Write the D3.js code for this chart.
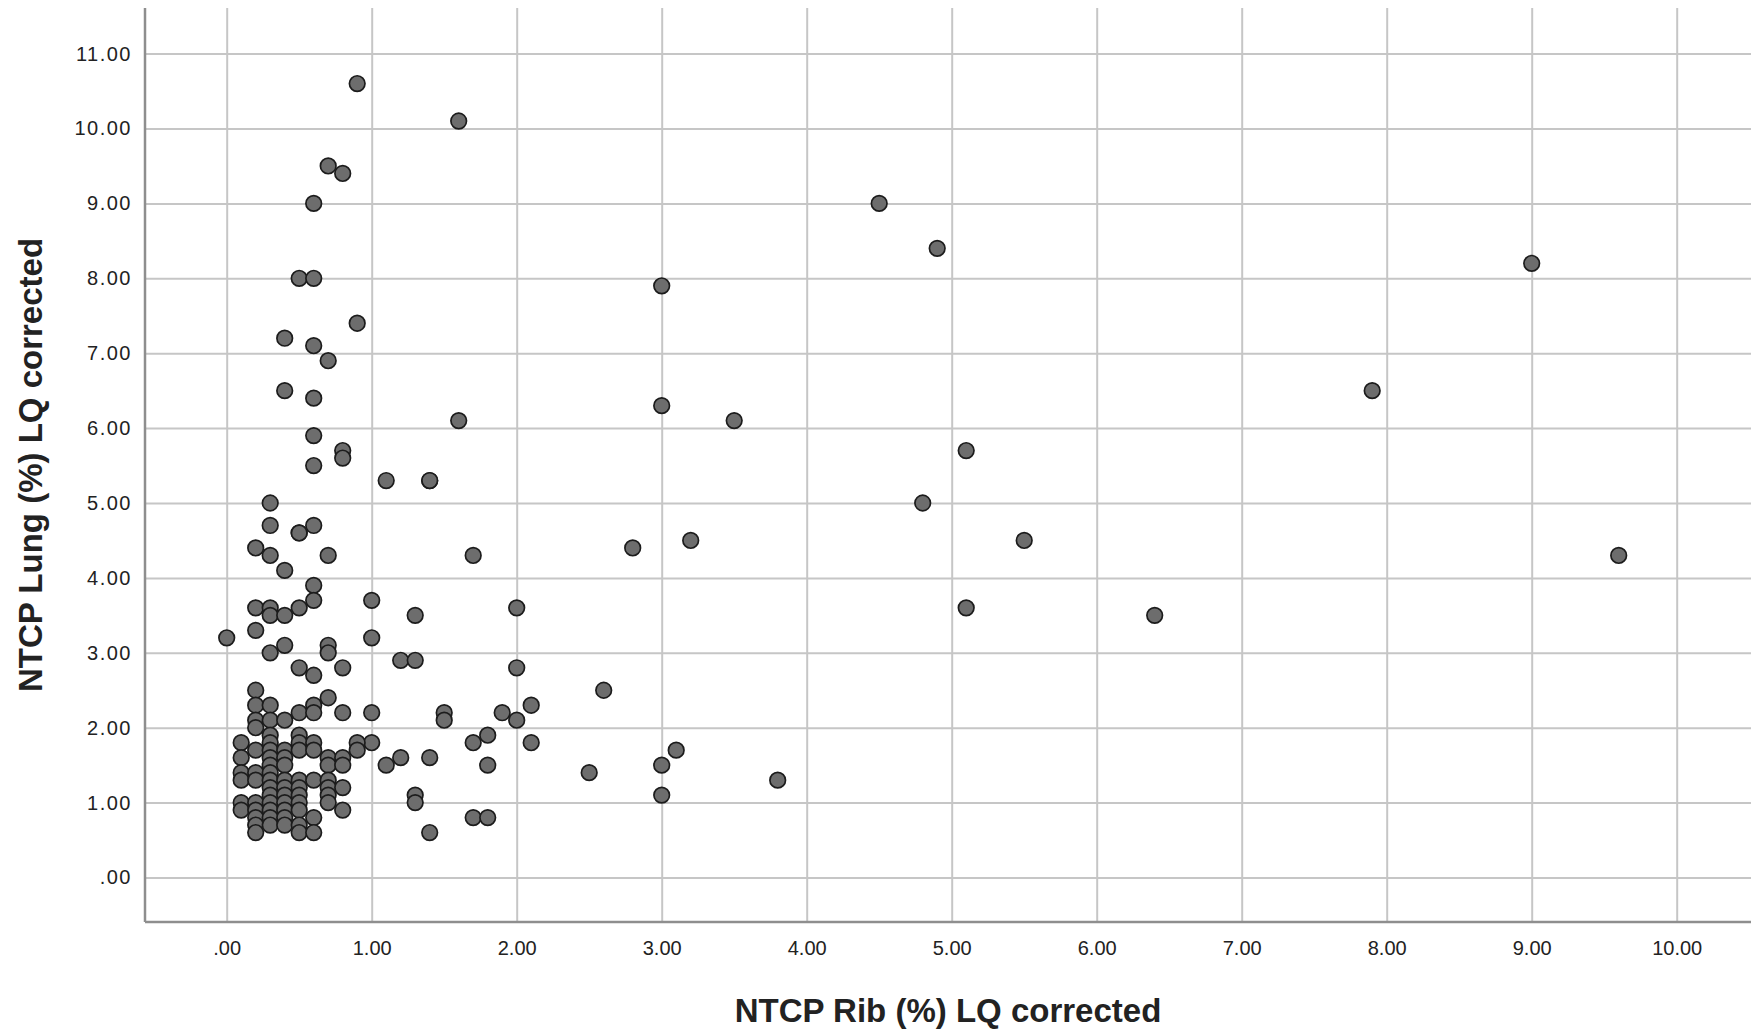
<!DOCTYPE html>
<html>
<head>
<meta charset="utf-8">
<script src="https://cdn.jsdelivr.net/npm/d3@7"></script>
<style>
	body { margin: 0; background: #fff; }
	svg { display: block; }
	text { font-family: "Liberation Sans", Arial, sans-serif; fill: #222; }
</style>
</head>
<body>
<svg id="chart" width="1751" height="1032"></svg>
<script>
// NTCP Rib (%) LQ corrected  (x) vs  NTCP Lung (%) LQ corrected  (y)
var ribValues = [
	0.9, 1.6, 0.7, 0.8, 0.6, 4.5, 4.9, 9.0, 0.5, 0.6, 3.0, 0.9, 0.4, 0.6, 0.7, 0.4, 7.9, 0.6, 3.0, 1.6,
	3.5, 0.6, 0.8, 5.1, 0.8, 0.6, 1.1, 1.4, 1.4, 0.3, 4.8, 0.3, 0.6, 0.5, 0.5, 3.2, 5.5, 0.2, 2.8, 0.3,
	0.7, 1.7, 9.6, 0.4, 0.6, 0.6, 1.0, 0.2, 0.3, 0.5, 2.0, 5.1, 0.3, 0.4, 1.3, 6.4, 0.2, 0.0, 1.0, 0.4,
	0.7, 0.3, 0.7, 1.2, 1.3, 0.5, 0.8, 2.0, 0.6, 2.6, 0.2, 0.7,
	2.1, 1.0, 1.5, 1.9, 0.8, 1.5, 2.0, 2.1, 1.0, 1.7, 1.8, 1.8, 1.4, 1.2, 1.1, 0.9, 0.9, 1.3, 1.3, 1.4,
	1.7, 1.8, 3.1, 3.0, 2.5, 3.8, 3.0,
	0.1, 0.1, 0.1, 0.1, 0.1, 0.1,
	0.2, 0.2, 0.2, 0.2, 0.2, 0.2, 0.2, 0.2, 0.2, 0.2, 0.2,
	0.3, 0.3, 0.3, 0.3, 0.3, 0.3, 0.3, 0.3, 0.3, 0.3, 0.3, 0.3, 0.3, 0.3, 0.3,
	0.4, 0.4, 0.4, 0.4, 0.4, 0.4, 0.4, 0.4, 0.4, 0.4, 0.4,
	0.5, 0.5, 0.5, 0.5, 0.5, 0.5, 0.5, 0.5, 0.5, 0.5, 0.5,
	0.6, 0.6, 0.6, 0.6, 0.6, 0.6, 0.6,
	0.7, 0.7, 0.7, 0.7, 0.7, 0.7,
	0.8, 0.8, 0.8, 0.8
]
var lungValues = [
	10.6, 10.1, 9.5, 9.4, 9.0, 9.0, 8.4, 8.2, 8.0, 8.0, 7.9, 7.4, 7.2, 7.1, 6.9, 6.5, 6.5, 6.4, 6.3, 6.1,
	6.1, 5.9, 5.7, 5.7, 5.6, 5.5, 5.3, 5.3, 5.3, 5.0, 5.0, 4.7, 4.7, 4.6, 4.6, 4.5, 4.5, 4.4, 4.4, 4.3,
	4.3, 4.3, 4.3, 4.1, 3.9, 3.7, 3.7, 3.6, 3.6, 3.6, 3.6, 3.6, 3.5, 3.5, 3.5, 3.5, 3.3, 3.2, 3.2, 3.1,
	3.1, 3.0, 3.0, 2.9, 2.9, 2.8, 2.8, 2.8, 2.7, 2.5, 2.5, 2.4,
	2.3, 2.2, 2.2, 2.2, 2.2, 2.1, 2.1, 1.8, 1.8, 1.8, 1.9, 1.5, 1.6, 1.6, 1.5, 1.8, 1.7, 1.1, 1.0, 0.6,
	0.8, 0.8, 1.7, 1.5, 1.4, 1.3, 1.1,
	1.8, 1.6, 1.4, 1.3, 1.0, 0.9,
	2.3, 2.1, 2.0, 1.7, 1.4, 1.3, 1.0, 0.9, 0.8, 0.7, 0.6,
	2.3, 2.1, 1.9, 1.8, 1.7, 1.6, 1.5, 1.4, 1.3, 1.2, 1.1, 1.0, 0.9, 0.8, 0.7,
	2.1, 1.7, 1.6, 1.5, 1.3, 1.2, 1.1, 1.0, 0.9, 0.8, 0.7,
	2.2, 1.9, 1.8, 1.7, 1.3, 1.2, 1.1, 1.0, 0.9, 0.7, 0.6,
	2.3, 2.2, 1.8, 1.7, 1.3, 0.8, 0.6,
	1.6, 1.5, 1.3, 1.2, 1.1, 1.0,
	1.6, 1.5, 1.2, 0.9
]
var xTicks = [0, 1, 2, 3, 4, 5, 6, 7, 8, 9, 10]
var yTicks = [0, 1, 2, 3, 4, 5, 6, 7, 8, 9, 10, 11]
var xTitle = "NTCP Rib (%) LQ corrected"
var yTitle = "NTCP Lung (%) LQ corrected"

var width = 1751, height = 1032
var plot = {left: 145, right: 1751, top: 8, bottom: 922}

var points = ribValues.map(function(d, i){ return {rib: d, lung: lungValues[i]} })

var x = d3.scaleLinear().domain([0, 10]).range([226.7, 1676.7])
var y = d3.scaleLinear().domain([0, 11]).range([877.5, 53.6])

// SPSS style labels: ".00", "1.00"
var fmt = function(v){ return d3.format(".2f")(v).replace(/^0\./, ".") }

var svg = d3.select("#chart")

// vertical grid + x tick labels
var gx = svg.append("g")
	.attr("transform", "translate(0," + plot.bottom + ")")
	.call(d3.axisBottom(x)
		.tickValues(xTicks)
		.tickFormat(fmt)
		.tickSize(-(plot.bottom - plot.top))
		.tickPadding(19))
gx.select(".domain").remove()
gx.selectAll(".tick line").attr("stroke", "#c6c6c6").attr("stroke-width", 2)
gx.selectAll(".tick text")
	.style("font-size", "20px")
	.attr("fill", "#222")

// horizontal grid + y tick labels
var gy = svg.append("g")
	.attr("transform", "translate(" + plot.left + ",0)")
	.call(d3.axisLeft(y)
		.tickValues(yTicks)
		.tickFormat(fmt)
		.tickSize(-(plot.right - plot.left))
		.tickPadding(13))
gy.select(".domain").remove()
gy.selectAll(".tick line").attr("stroke", "#c6c6c6").attr("stroke-width", 2)
gy.selectAll(".tick text")
	.style("font-size", "20px")
	.style("letter-spacing", "1.5px")
	.attr("fill", "#222")

// axis lines
svg.append("line")
	.attr("x1", plot.left).attr("x2", plot.left)
	.attr("y1", plot.top).attr("y2", plot.bottom)
	.attr("stroke", "#8e8e8e").attr("stroke-width", 2.5)
svg.append("line")
	.attr("x1", plot.left).attr("x2", plot.right)
	.attr("y1", plot.bottom).attr("y2", plot.bottom)
	.attr("stroke", "#8e8e8e").attr("stroke-width", 2.5)

// points
svg.append("g").selectAll("circle")
	.data(points)
.enter().append("circle")
	.attr("cx", function(d){ return x(d.rib) })
	.attr("cy", function(d){ return y(d.lung) })
	.attr("r", 7.8)
	.attr("fill", "#6d6d6d")
	.attr("stroke", "#1c1c1c")
	.attr("stroke-width", 1.7)

// axis titles
svg.append("text")
	.attr("x", (plot.left + plot.right) / 2)
	.attr("y", 1022)
	.attr("text-anchor", "middle")
	.style("font-size", "33px")
	.style("font-weight", "bold")
	.text(xTitle)

svg.append("text")
	.attr("transform", "translate(42," + (plot.top + plot.bottom) / 2 + ") rotate(-90)")
	.attr("text-anchor", "middle")
	.style("font-size", "33px")
	.style("font-weight", "bold")
	.text(yTitle)
</script>
</body>
</html>
